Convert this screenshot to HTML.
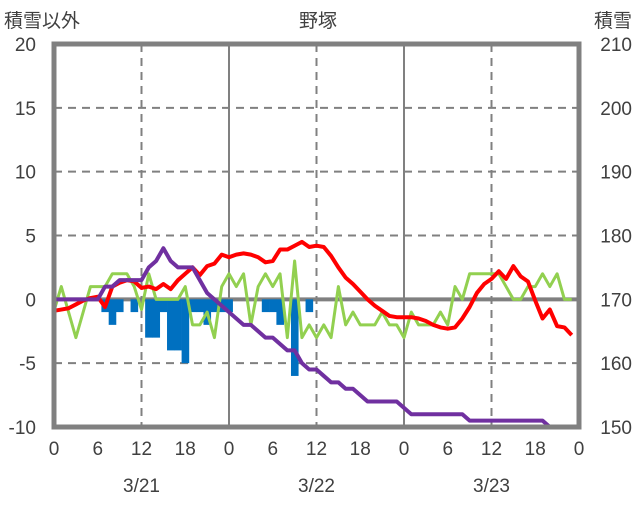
<!DOCTYPE html>
<html><head><meta charset="utf-8"><style>
html,body{margin:0;padding:0;background:#fff;}
svg text{font-family:"Liberation Sans","Noto Sans CJK JP",sans-serif;fill:#404040;}
</style></head><body>
<svg id="chart" width="636" height="501" viewBox="0 0 636 501">
<text x="4" y="27" font-size="19">積雪以外</text>
<text x="318" y="27" font-size="19" text-anchor="middle">野塚</text>
<text x="632" y="27" font-size="19" text-anchor="end">積雪</text>
<g id="grid"></g>
<g id="bars"></g>
<g id="lines"></g>
<rect x="54" y="44" width="525" height="383" fill="none" stroke="#808080" stroke-width="5"/>
<g id="labels"></g>
</svg>
<script>
const hours=[...Array(72).keys()];
const redSeries=[-0.9,-0.8,-0.7,-0.4,-0.1,0.1,0.2,-0.6,1.0,1.3,1.5,1.4,0.9,1.0,0.8,1.2,0.8,1.5,2.0,2.5,1.9,2.6,2.8,3.5,3.3,3.5,3.6,3.5,3.3,2.9,3.0,3.9,3.9,4.2,4.5,4.1,4.2,4.1,3.4,2.5,1.7,1.2,0.6,0.0,-0.5,-0.9,-1.3,-1.4,-1.4,-1.4,-1.5,-1.7,-2.0,-2.2,-2.3,-2.2,-1.5,-0.6,0.5,1.2,1.6,2.2,1.6,2.6,1.8,1.4,-0.1,-1.5,-0.8,-2.1,-2.2,-2.8];
const greenSeries=[-0.9,1,-1,-3,-1,1,1,1,2,2,2,1,-0.8,2,0,0,0,0,1,-2,-2,-1,-3,1,2,1,2,-2,1,2,1,2,-3,3,-3,-2,-3,-2,-3,1,-2,-1,-2,-2,-2,-1,-2,-2,-3,-1,-2,-2,-2,-1,-2,1,0,2,2,2,2,2,1,0,0,1,1,2,1,2,0,0];
const snowDepth=[170,170,170,170,170,170,170,172,172,173,173,173,173,175,176,178,176,175,175,175,173,171,170,169,168,167,166,166,165,164,164,163,162,162,160,159,159,158,157,157,156,156,155,154,154,154,154,154,153,152,152,152,152,152,152,152,152,151,151,151,151,151,151,151,151,151,151,151,150,150,150,150];
const barSeries=[0,0,0,0,0,0,0,-1,-2,-1,0,-1,0,-3,-3,-1,-4,-4,-5,-1,-1,-2,-1,-1,-1,0,0,0,0,-1,-1,-2,0,-6,0,-1,0,0,0,0,0,0,0,0,0,0,0,0,0,0,0,0,0,0,0,0,0,0,0,0,0,0,0,0,0,0,0,0,0,0,0,0];
const leftTicks=[20,15,10,5,0,-5,-10];
const rightTicks=[210,200,190,180,170,160,150];
const xTickLabels=["0","6","12","18","0","6","12","18","0","6","12","18","0"];
const dateLabels=["3/21","3/22","3/23"];
const X0=54,X1=579,Y0=44,Y1=427;
const xs=h=>X0+(X1-X0)*h/72;
const ys=v=>Y0+(20-v)*(Y1-Y0)/30;
const yr=r=>ys((r-170)/2);
const NS="http://www.w3.org/2000/svg";
function mk(tag,parent,attrs){const e=document.createElementNS(NS,tag);for(const k in attrs)e.setAttribute(k,attrs[k]);document.getElementById(parent).appendChild(e);return e;}
// grid
leftTicks.forEach(v=>{if(v===20||v===-10)return;
 const l=mk('line','grid',{x1:X0,x2:X1,y1:ys(v),y2:ys(v),stroke:'#808080','stroke-width':v===0?4:2,'stroke-dasharray':v===0?'none':'8 6'});
 
 });
[12,24,36,48,60].forEach(h=>{const solid=h%24===0;
 const l=mk('line','grid',{x1:xs(h),x2:xs(h),y1:Y0,y2:Y1,stroke:'#808080','stroke-width':2,'stroke-dasharray':solid?'none':'8 6'});
 
 });
// bars
barSeries.forEach((v,i)=>{if(v===0)return;
 const w=(X1-X0)/72;
 const r=mk('rect','bars',{x:xs(i)-w/2,y:ys(0),width:w+0.3,height:ys(v)-ys(0),fill:'#0070c0'});
 
 });
function line(arr,f,color,name,w){
 const p=mk('polyline','lines',{points:arr.map((v,i)=>xs(i)+','+f(v)).join(' '),fill:'none',stroke:color,'stroke-width':w,'stroke-linejoin':'round'});
 
 }
line(greenSeries,ys,'#92d050','wind-line',3);
line(redSeries,ys,'#ff0000','temperature-line',4);
line(snowDepth,yr,'#7030a0','snow-depth-line',4);
// labels
leftTicks.forEach(v=>{const t=mk('text','labels',{x:36,y:ys(v)+7,'font-size':19,'text-anchor':'end'});t.textContent=v;
 
 });
rightTicks.forEach(v=>{const t=mk('text','labels',{x:632,y:yr(v)+7,'font-size':19,'text-anchor':'end'});t.textContent=v;
 
 });
xTickLabels.forEach((s,i)=>{const t=mk('text','labels',{x:xs(i*6),y:455,'font-size':19,'text-anchor':'middle'});t.textContent=s;
 
 });
dateLabels.forEach((s,i)=>{const t=mk('text','labels',{x:xs(12+24*i),y:492,'font-size':19,'text-anchor':'middle'});t.textContent=s;
 
 });
</script>
</body></html>
